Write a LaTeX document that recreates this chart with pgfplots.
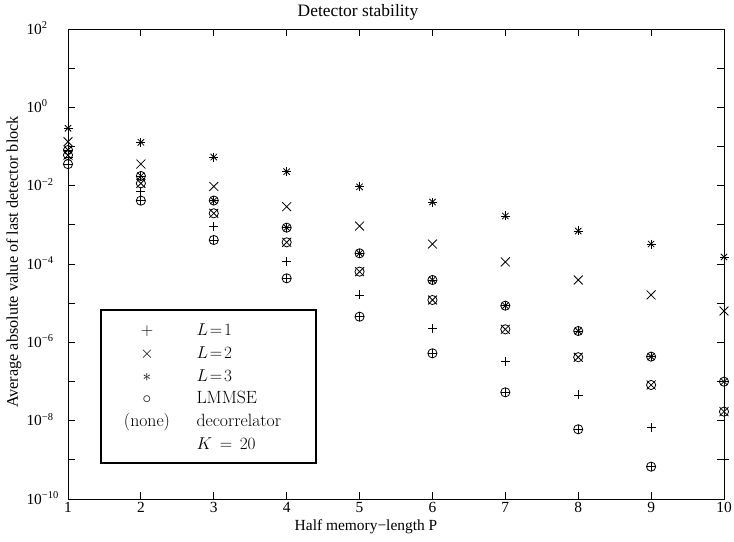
\documentclass[border=0pt]{standalone}
\usepackage{pgfplots}
\pgfplotsset{compat=1.18}
\usepackage{pgfplotstable}
\usepackage{fontspec}
\newfontfamily\tms{Liberation Serif}
\newcommand\ylab[1]{10\raisebox{0.8ex}{\fontsize{10.5}{10.5}\selectfont #1}}

% columns: P, L=1 decorrelator, L=1 LMMSE, L=2 decorrelator, L=2 LMMSE, L=3 decorrelator, L=3 LMMSE
\pgfplotstableread{
P  Ld1       Lm1       Ld2       Lm2       Ld3       Lm3
1  0.0513    0.0355    0.1327    0.0603    0.2917    0.0813
2  0.00702   0.00414   0.0357    0.01148   0.128     0.01766
3  8.97e-4   4.10e-4   0.00955   0.00197   0.0537    0.00417
4  1.148e-4  4.31e-5   2.90e-3   3.58e-4   0.02275   8.47e-4
5  1.618e-5  4.52e-6   9.33e-4   6.38e-5   9.33e-3   1.875e-4
6  2.28e-6   5.25e-7   3.24e-4   1.205e-5  3.83e-3   3.91e-5
7  3.21e-7   5.30e-8   1.127e-4  2.15e-6   1.683e-3  8.63e-6
8  4.53e-8   6.03e-9   3.91e-5   4.17e-7   6.97e-4   1.95e-6
9  6.62e-9   6.70e-10  1.622e-5  8.15e-8   3.24e-4   4.32e-7
10 1.0e-9    nan       6.31e-6   1.70e-8   1.514e-4  9.91e-8
}\data

\begin{document}
\begin{tikzpicture}
\path[use as bounding box] (0,0) rectangle (734bp,-542bp);
\begin{axis}[
  at={(68bp,-499bp)}, anchor=south west,
  scale only axis, width=656bp, height=470bp,
  xmin=1, xmax=10, ymode=log, ymin=1e-10, ymax=1e2,
  axis line style={black, line width=0.9bp},
  xtick={1,...,10}, xticklabels={1,2,3,4,5,6,7,8,9,10},
  ytick={1e-10,1e-9,1e-8,1e-7,1e-6,1e-5,1e-4,1e-3,1e-2,1e-1,1,10,100},
  yticklabels={\ylab{−10},,\ylab{−8},,\ylab{−6},,\ylab{−4},,\ylab{−2},,\ylab{0},,\ylab{2}},
  yminorticks=false, xminorticks=false,
  major tick length=7bp,
  tick style={black, line width=0.8bp},
  ticklabel style={font=\tms\fontsize{15.5}{15.5}\selectfont},
  yticklabel style={anchor=base west, xshift=-45bp, yshift=-5bp},
  every axis plot/.append style={only marks, black, line width=0.8bp, mark options={solid}},
]
% L=1 decorrelator (+)
\addplot[mark=+, mark size=4.5bp] table[x=P, y=Ld1] {\data};
% L=1 LMMSE (+ with circle)
\addplot[mark=+, mark size=4.5bp] table[x=P, y=Lm1] {\data};
\addplot[mark=o, mark size=4.6bp] table[x=P, y=Lm1] {\data};
% L=2 decorrelator (x)
\addplot[mark=x, mark size=6.3bp] table[x=P, y=Ld2] {\data};
% L=2 LMMSE (x with circle)
\addplot[mark=x, mark size=6.3bp] table[x=P, y=Lm2] {\data};
\addplot[mark=o, mark size=4.6bp] table[x=P, y=Lm2] {\data};
% L=3 decorrelator (asterisk: + and x)
\addplot[mark=+, mark size=4.5bp] table[x=P, y=Ld3] {\data};
\addplot[mark=x, mark size=4.5bp] table[x=P, y=Ld3] {\data};
% L=3 LMMSE (asterisk with circle)
\addplot[mark=+, mark size=4.5bp] table[x=P, y=Lm3] {\data};
\addplot[mark=x, mark size=4.5bp] table[x=P, y=Lm3] {\data};
\addplot[mark=o, mark size=4.6bp] table[x=P, y=Lm3] {\data};
\end{axis}

\node[font=\tms\fontsize{17.5}{17.5}\selectfont] at (358bp,-12bp) {Detector stability};
\node[font=\tms\fontsize{15.5}{15.5}\selectfont] at (366bp,-527bp) {Half memory−length P};
\node[font=\tms\fontsize{16.3}{16.3}\selectfont, rotate=90] at (14bp,-262bp) {Average absolute value of last detector block};

\draw[line width=2.4bp, fill=white] (101bp,-310bp) rectangle (316bp,-463bp);
\begin{scope}[font=\fontsize{17.8}{22}\selectfont]
\node[anchor=base] at (147bp,-335bp) {$+$};
\node[anchor=base] at (147bp,-358bp) {$\times$};
\node[anchor=base] at (147bp,-381bp) {$*$};
\node[anchor=base] at (147bp,-403.5bp) {$\circ$};
\node[anchor=base] at (147bp,-426bp) {(none)};
\node[anchor=base west] at (193bp,-335bp) {$L\!=\!1$};
\node[anchor=base west] at (193bp,-358bp) {$L\!=\!2$};
\node[anchor=base west] at (193bp,-381bp) {$L\!=\!3$};
\node[anchor=base west] at (193bp,-403.5bp) {LMMSE};
\node[anchor=base west] at (193bp,-426bp) {decorrelator};
\node[anchor=base west] at (193bp,-449bp) {$K\,=\,20$};
\end{scope}
\end{tikzpicture}
\end{document}
